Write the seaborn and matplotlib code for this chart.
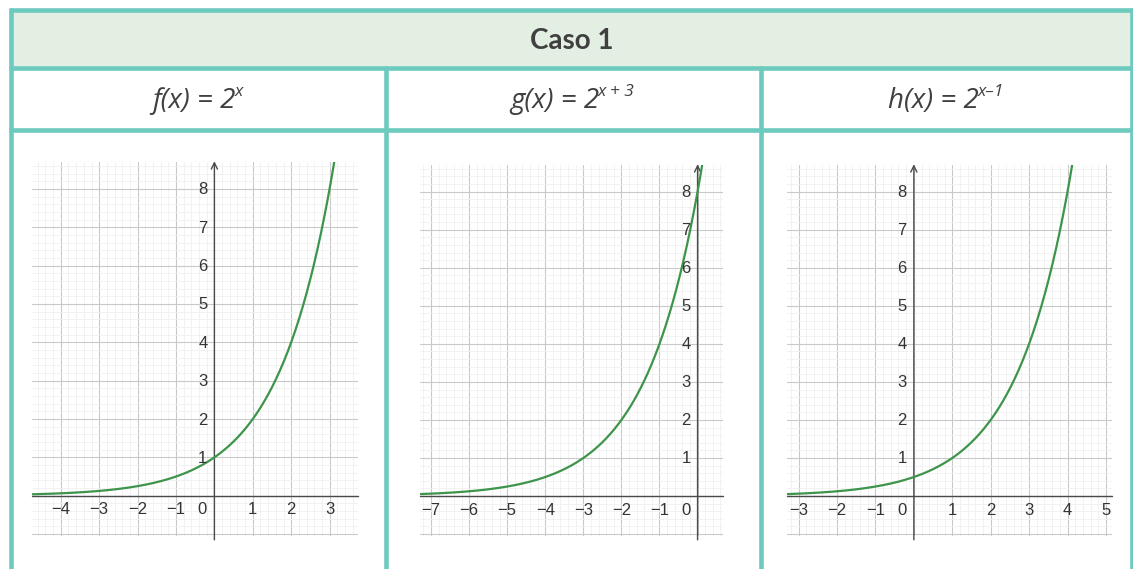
import numpy as np
import pandas as pd
import matplotlib
matplotlib.use("Agg")
import matplotlib.pyplot as plt
import matplotlib.transforms as mtransforms
from matplotlib.patches import Rectangle
from matplotlib.ticker import MultipleLocator
import seaborn as sns

# ---- content -------------------------------------------------------------
header = "Caso 1"
title_bases = ["f(x) = 2", "g(x) = 2", "h(x) = 2"]
title_exponents = ["x", "x + 3", "x\u20131"]
base = 2
shifts = [0, 3, -1]                      # exponent offsets: 2**(x + shift)
x_windows = [(-4.75, 3.74), (-7.29, 0.66), (-3.31, 5.15)]
y_window = (-1.05, 8.70)
x_tick_values = [[-4, -3, -2, -1, 1, 2, 3],
                 [-7, -6, -5, -4, -3, -2, -1],
                 [-3, -2, -1, 1, 2, 3, 4, 5]]
y_tick_values = [1, 2, 3, 4, 5, 6, 7, 8]

# ---- style ---------------------------------------------------------------
sns.set_style("white")
plt.rcParams["font.family"] = ["Liberation Sans", "DejaVu Sans"]

TEAL = "#6ccabe"
HEADER_BG = "#e2efe2"
TEXT = "#404040"
CURVE = "#3d944a"
AXIS = "#4a4a4a"
MAJOR = "#c9c9c9"
MINOR = "#f0f0f0"

W, H = 1133, 569
DPI = 100
fig = plt.figure(figsize=(W / DPI, H / DPI), dpi=DPI)
fig.patch.set_facecolor("white")

# ---- table frame (pixel coordinates) -------------------------------------
bg = fig.add_axes([0, 0, 1, 1], zorder=0)
bg.set_xlim(0, W)
bg.set_ylim(H, 0)
bg.axis("off")

left_x, right_x = 11, 1132
top_y, head_y, row_y = 10, 67.5, 129.5
col_x = [left_x, 385.5, 760.5, right_x]
border_w = 3.3

bg.add_patch(Rectangle((left_x, top_y), right_x - left_x, head_y - top_y,
                       facecolor=HEADER_BG, edgecolor="none"))
for y in (top_y, head_y, row_y):
    bg.plot([left_x - 2, right_x + 2], [y, y], color=TEAL, lw=border_w,
            solid_capstyle="butt")
bg.plot([left_x, left_x], [top_y, H], color=TEAL, lw=border_w)
bg.plot([right_x, right_x], [top_y, H], color=TEAL, lw=border_w)
for x in col_x[1:3]:
    bg.plot([x, x], [head_y, H], color=TEAL, lw=border_w)

bg.text((left_x + right_x) / 2, 41, header, ha="center", va="center",
        fontsize=20, fontweight="bold", family="Lato", color=TEXT)

# column titles: italic base text followed by a raised exponent
fig.canvas.draw()
renderer = fig.canvas.get_renderer()
for i, (tb, te) in enumerate(zip(title_bases, title_exponents)):
    cx = (col_x[i] + col_x[i + 1]) / 2
    main = bg.text(cx, 101, tb, ha="center", va="center", fontsize=20,
                   family="Open Sans", style="italic", color=TEXT)
    sup = bg.text(cx, 101, te, ha="left", va="center", fontsize=12.5,
                  family="Open Sans", style="italic", color=TEXT)
    wm = main.get_window_extent(renderer).width
    ws = sup.get_window_extent(renderer).width
    start = cx - (wm + ws) / 2
    main.set_ha("left")
    main.set_x(start)
    sup.set_x(start + wm - 1)
    sup.set_y(92)

# ---- graph panels --------------------------------------------------------
boxes = [(32, 162, 358, 536), (420, 165, 722.7, 536), (786.7, 165, 1111.7, 536)]

for i, (shift, xw, (l, t, r, b)) in enumerate(zip(shifts, x_windows, boxes)):
    ax = fig.add_axes([l / W, 1 - b / H, (r - l) / W, (b - t) / H], zorder=1)
    ax.set_facecolor("none")
    ax.set_xlim(*xw)
    ax.set_ylim(*y_window)
    for s in ax.spines.values():
        s.set_visible(False)
    ax.xaxis.set_major_locator(MultipleLocator(1))
    ax.yaxis.set_major_locator(MultipleLocator(1))
    ax.xaxis.set_minor_locator(MultipleLocator(0.2))
    ax.yaxis.set_minor_locator(MultipleLocator(0.2))
    ax.grid(which="minor", color=MINOR, lw=0.6, zorder=0)
    ax.grid(which="major", color=MAJOR, lw=0.8, zorder=1)
    ax.set_axisbelow(True)
    ax.tick_params(which="both", length=0, labelbottom=False, labelleft=False)

    # coordinate axes
    ax.plot(list(xw), [0, 0], color=AXIS, lw=1.0, zorder=3, clip_on=False)
    ax.annotate("", xy=(0, y_window[1] + 0.02), xytext=(0, y_window[0] - 0.1),
                xycoords="data", textcoords="data", annotation_clip=False,
                arrowprops=dict(arrowstyle="->,head_length=0.45,head_width=0.22",
                                color=AXIS, lw=1.0, shrinkA=0, shrinkB=0),
                zorder=3)

    # curve y = base ** (x + shift)
    xs = np.linspace(xw[0], xw[1], 600)
    df = pd.DataFrame({"x": xs, "y": base ** (xs + shift)})
    sns.lineplot(data=df, x="x", y="y", ax=ax, color=CURVE, lw=1.6,
                 zorder=4, sort=False)
    ax.set_xlabel("")
    ax.set_ylabel("")

    # tick labels drawn next to the coordinate axes
    below = mtransforms.offset_copy(ax.transData, fig=fig, x=0, y=-14 * 72 / DPI,
                                    units="points")
    for v in x_tick_values[i]:
        lab = f"\u2212{abs(v)}" if v < 0 else f"{v}"
        ax.text(v, 0, lab, transform=below, ha="center", va="center",
                fontsize=12, color="#333333", zorder=5)
    origin = mtransforms.offset_copy(ax.transData, fig=fig, x=-12 * 72 / DPI,
                                     y=-14 * 72 / DPI, units="points")
    ax.text(0, 0, "0", transform=origin, ha="center", va="center",
            fontsize=12, color="#333333", zorder=5)
    leftof = mtransforms.offset_copy(ax.transData, fig=fig, x=-7 * 72 / DPI,
                                     y=-1 * 72 / DPI, units="points")
    for v in y_tick_values:
        ax.text(0, v, f"{v}", transform=leftof, ha="right", va="center",
                fontsize=12, color="#333333", zorder=5)

fig.savefig("out.png", dpi=DPI, facecolor="white")
